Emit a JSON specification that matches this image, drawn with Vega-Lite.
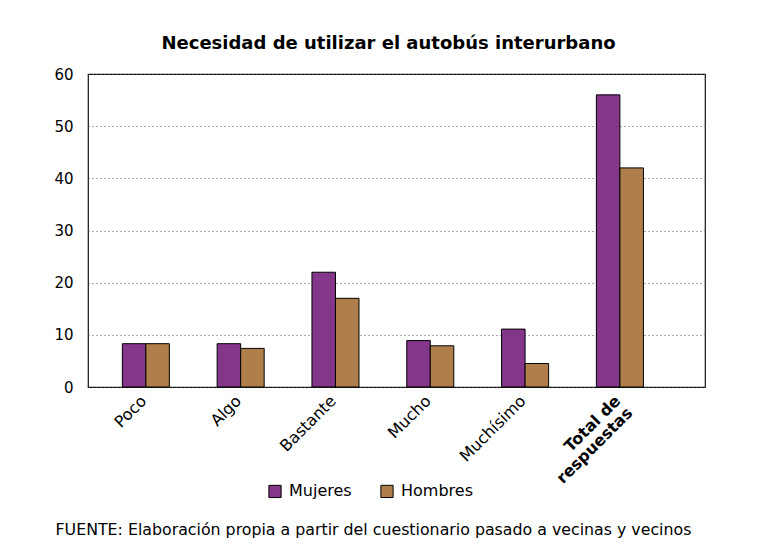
{
  "$schema": "https://vega.github.io/schema/vega-lite/v6.json",
  "width": 617,
  "height": 313,
  "autosize": {"type": "none"},
  "padding": {"left": 88, "top": 74, "right": 65, "bottom": 161},
  "background": "white",
  "config": {
    "font": "DejaVu Sans",
    "view": {"stroke": "#111", "strokeWidth": 1.2},
    "axis": {"labelColor": "black", "titleColor": "black"}
  },
  "title": {
    "text": "Necesidad de utilizar el autobús interurbano",
    "font": "DejaVu Sans",
    "fontSize": 18,
    "fontWeight": "bold",
    "color": "black",
    "anchor": "middle",
    "frame": "group",
    "dx": -8,
    "offset": 14
  },
  "data": {
    "values": [
      {"categoria": "Poco", "sexo": "Mujeres", "valor": 8.3},
      {"categoria": "Poco", "sexo": "Hombres", "valor": 8.3},
      {"categoria": "Algo", "sexo": "Mujeres", "valor": 8.3},
      {"categoria": "Algo", "sexo": "Hombres", "valor": 7.4},
      {"categoria": "Bastante", "sexo": "Mujeres", "valor": 22},
      {"categoria": "Bastante", "sexo": "Hombres", "valor": 17},
      {"categoria": "Mucho", "sexo": "Mujeres", "valor": 8.9},
      {"categoria": "Mucho", "sexo": "Hombres", "valor": 7.9},
      {"categoria": "Muchísimo", "sexo": "Mujeres", "valor": 11.1},
      {"categoria": "Muchísimo", "sexo": "Hombres", "valor": 4.5},
      {"categoria": "Total de respuestas", "sexo": "Mujeres", "valor": 56},
      {"categoria": "Total de respuestas", "sexo": "Hombres", "valor": 42}
    ]
  },
  "mark": {"type": "bar", "stroke": "black", "strokeWidth": 1},
  "encoding": {
    "x": {
      "field": "categoria",
      "type": "nominal",
      "sort": null,
      "scale": {"paddingInner": 0.504, "paddingOuter": 0.506, "align": 0.358},
      "axis": {
        "title": "FUENTE: Elaboración propia a partir del cuestionario pasado a vecinas y vecinos",
        "titleFont": "DejaVu Sans",
        "titleFontSize": 15.8,
        "titleFontWeight": "normal",
        "titleAlign": "left",
        "titleAnchor": null,
        "titleX": -33,
        "titleY": 147,
        "titleBaseline": "alphabetic",
        "labelAngle": -45,
        "labelAlign": "right",
        "labelBaseline": "middle",
        "labelFontSize": 16,
        "labelPadding": 11,
        "labelOffset": -2,
        "labelLineHeight": 17,
        "labelExpr": "datum.value == 'Total de respuestas' ? ['Total de', 'respuestas'] : datum.label",
        "labelFontWeight": {"condition": {"test": "datum.value == 'Total de respuestas'", "value": "bold"}, "value": "normal"},
        "domain": false,
        "ticks": false,
        "grid": false
      }
    },
    "xOffset": {
      "field": "sexo",
      "type": "nominal",
      "sort": ["Mujeres", "Hombres"],
      "scale": {"paddingInner": 0, "paddingOuter": 0}
    },
    "y": {
      "field": "valor",
      "type": "quantitative",
      "scale": {"domain": [0, 60], "nice": false},
      "axis": {
        "title": null,
        "values": [0, 10, 20, 30, 40, 50, 60],
        "labelFontSize": 15,
        "labelPadding": 15,
        "ticks": false,
        "domain": false,
        "grid": true,
        "gridColor": "#555",
        "gridDash": [1, 3],
        "gridWidth": 1
      }
    },
    "color": {
      "field": "sexo",
      "type": "nominal",
      "sort": ["Mujeres", "Hombres"],
      "scale": {"domain": ["Mujeres", "Hombres"], "range": ["#84378A", "#B07E4B"]},
      "legend": {
        "title": null,
        "orient": "none",
        "direction": "horizontal",
        "legendX": 179,
        "legendY": 409,
        "symbolType": "square",
        "symbolSize": 150,
        "symbolStrokeColor": "black",
        "symbolStrokeWidth": 1,
        "symbolOpacity": 1,
        "labelFont": "DejaVu Sans",
        "labelFontSize": 16,
        "labelColor": "black",
        "labelOffset": 6,
        "columnPadding": 26
      }
    }
  }
}
